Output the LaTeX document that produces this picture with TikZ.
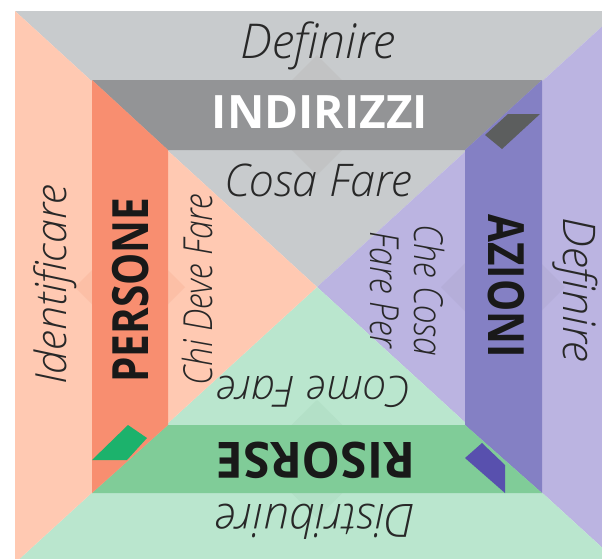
\documentclass[tikz,border=0pt]{standalone}
\usepackage{fontspec}
\setmainfont{Open Sans}
\newfontfamily\lightf{Open Sans}[UprightFont={* Light}, ItalicFont={* Light Italic}]
\newfontfamily\condf{Open Sans}[UprightFont={* Light}, ItalicFont={* Light Italic}, FakeStretch=0.84]
\newfontfamily\boldA{Open Sans}[FakeStretch=0.81]
\newfontfamily\boldB{Open Sans}[FakeStretch=0.97]
\definecolor{grayL}{RGB}{200,203,205}
\definecolor{grayD}{RGB}{147,148,150}
\definecolor{grayF}{RGB}{92,94,94}
\definecolor{grayDia}{RGB}{194,195,196}
\definecolor{peachL}{RGB}{255,201,178}
\definecolor{salmon}{RGB}{248,142,112}
\definecolor{peachDia}{RGB}{252,191,166}
\definecolor{purpL}{RGB}{187,180,225}
\definecolor{purpD}{RGB}{132,128,196}
\definecolor{purpF}{RGB}{88,80,174}
\definecolor{purpDia}{RGB}{181,174,217}
\definecolor{greenL}{RGB}{186,230,206}
\definecolor{greenD}{RGB}{128,204,152}
\definecolor{greenF}{RGB}{28,178,108}
\definecolor{greenDia}{RGB}{179,224,199}
\definecolor{txtL}{RGB}{40,40,40}
\definecolor{txtB}{RGB}{25,25,25}
\tikzset{
  soft/.style={font=\lightf\itshape\fontsize{#1}{#1}\selectfont, text=txtL, inner sep=0pt},
  condtxt/.style={font=\condf\itshape\fontsize{40}{44}\selectfont, text=txtL, inner sep=0pt, align=center},
  boldlab/.style={font=\boldA\bfseries\fontsize{50}{52}\selectfont, text=txtB, inner sep=0pt},
}
\begin{document}
\begin{tikzpicture}[x=1pt,y=-1pt]
\useasboundingbox (0,0) rectangle (602,558);
\fill[white] (0,0) rectangle (602,558);
\clip (0,0) rectangle (602,558);
% outer frame
\coordinate (C) at (317,287);
\coordinate (TL) at (15,11);
\coordinate (TR) at (619,11);
\coordinate (BR) at (619,563);
\coordinate (BL) at (15,563);
\fill[grayL] (TL) -- (TR) -- (C) -- cycle;
\fill[purpL] (TR) -- (BR) -- (C) -- cycle;
\fill[greenL] (BR) -- (BL) -- (C) -- cycle;
\fill[peachL] (BL) -- (TL) -- (C) -- cycle;
% diamonds
\fill[grayDia] (317,55) -- (377,115) -- (317,175) -- (257,115) -- cycle;
\fill[peachDia] (130,232) -- (185,287) -- (130,342) -- (75,287) -- cycle;
\fill[purpDia] (503,225) -- (565,287) -- (503,349) -- (441,287) -- cycle;
\fill[greenDia] (317,400) -- (377,459) -- (317,518) -- (257,459) -- cycle;
% bars (mitered frame)
\coordinate (oTL) at (92,80);
\coordinate (oTR) at (542,80);
\coordinate (oBR) at (542,493);
\coordinate (oBL) at (92,493);
\coordinate (iTL) at (168,150);
\coordinate (iTR) at (465,150);
\coordinate (iBR) at (465,425);
\coordinate (iBL) at (168,425);
\fill[grayD] (oTL) -- (oTR) -- (iTR) -- (iTL) -- cycle;
\fill[purpD] (oTR) -- (oBR) -- (iBR) -- (iTR) -- cycle;
\fill[greenD] (oBR) -- (oBL) -- (iBL) -- (iBR) -- cycle;
\fill[salmon] (oBL) -- (oTL) -- (iTL) -- (iBL) -- cycle;
% folded flaps
\fill[grayF] (508,114) -- (540,114) -- (502,149) -- (485,135) -- cycle;
\fill[greenF] (92,460) -- (128,425) -- (147,438) -- (127,460) -- cycle;
\fill[purpF] (465,458) -- (482,443) -- (505,465) -- (505,493) -- cycle;
% texts
\node[soft=48] (defT) at (318,46) {Definire};
\node[boldlab, font=\fontspec{Open Sans}\bfseries\fontsize{46}{48}\selectfont, text=white] (indir) at (320,112) {INDIRIZZI};
\node[soft=45] (cosa) at (318,180) {Cosa Fare};
\node[soft=43, rotate=90] (ident) at (55,285) {Identificare};
\node[boldlab, rotate=90] (pers) at (131,290) {PERSONE};
\node[condtxt, rotate=90] (chi) at (197,290) {Chi Deve Fare};
\node[boldlab, rotate=-90] (azio) at (506,286) {AZIONI};
\node[soft=45, rotate=-90] (defR) at (575,290) {Definire};
\node[condtxt, rotate=-90] (che) at (407,290) {Che Cosa\\Fare Per};
\node[soft=43, rotate=180] (come) at (314,392) {Come Fare};
\node[boldlab, font=\boldB\bfseries\fontsize{50}{52}\selectfont, rotate=180] (riso) at (316,460) {RISORSE};
\node[soft=46, rotate=180] (distr) at (316,522) {Distribuire};
\end{tikzpicture}
\end{document}
